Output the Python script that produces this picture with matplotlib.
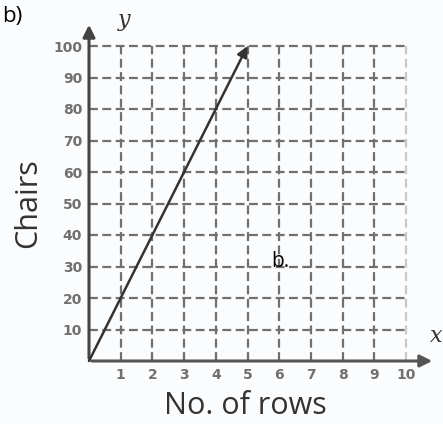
import matplotlib.pyplot as plt

rows = [0, 5]
chairs = [0, 100]
x_ticks = [1, 2, 3, 4, 5, 6, 7, 8, 9, 10]
y_ticks = [10, 20, 30, 40, 50, 60, 70, 80, 90, 100]

fig = plt.figure(figsize=(4.43, 4.24), dpi=100, facecolor='#fbfcfd')
ax = fig.add_axes([89 / 443, 63 / 424, 346 / 443, 339 / 424])
ax.set_facecolor('#fbfcfd')
ax.set_xlim(0, 346 / 31.7)
ax.set_ylim(0, 339 / 3.15)

# dashed grid only up to 10 / 100
for xv in x_ticks:
    c = '#c8c8c8' if xv == 10 else '#707070'
    ax.vlines(xv, 0, 100, colors=c, linestyles=(0, (4, 2)), linewidth=1.6)
for yv in y_ticks:
    ax.hlines(yv, 0, 10, colors='#707070', linestyles=(0, (4, 2)), linewidth=1.6)

for s in ['top', 'right', 'left', 'bottom']:
    ax.spines[s].set_visible(False)

# axes with arrows
ax.annotate('', xy=(1.0, 0), xytext=(0, 0), xycoords='axes fraction',
            arrowprops=dict(arrowstyle='-|>', color='#555555', lw=2.2, mutation_scale=18))
ax.annotate('', xy=(0, 1.0), xytext=(0, 0), xycoords='axes fraction',
            arrowprops=dict(arrowstyle='-|>', color='#444444', lw=2.2, mutation_scale=18))

# the line
ax.annotate('', xy=(rows[1], chairs[1]), xytext=(rows[0], chairs[0]),
            arrowprops=dict(arrowstyle='-|>', color='#333333', lw=1.8, mutation_scale=16,
                            shrinkA=0, shrinkB=0))

ax.set_xticks(x_ticks)
ax.set_yticks(y_ticks)
ax.tick_params(length=0, labelsize=10, colors='#707070', pad=5)
for lab in ax.get_xticklabels() + ax.get_yticklabels():
    lab.set_fontweight('bold')

fig.text(245 / 443, 1 - 406 / 424, 'No. of rows', fontsize=22, color='#333333',
         family='Open Sans', ha='center', va='center')
fig.text(28 / 443, 1 - 203 / 424, 'Chairs', fontsize=22, color='#333333',
         family='Open Sans', ha='center', va='center', rotation=90)

fig.text(0.005, 0.96, 'b)', fontsize=16, color='black', family='Open Sans', va='center')
fig.text(118 / 443, 1 - 20 / 424, 'y', fontsize=16, style='italic', family='DejaVu Serif',
         color='#333333', va='center')
fig.text(430 / 443, 1 - 336 / 424, 'x', fontsize=16, style='italic', family='DejaVu Serif',
         color='#333333', va='center')
ax.text(5.75, 31.5, 'b.', fontsize=15, color='black', family='Open Sans', va='center')

fig.savefig('out.png', dpi=100, facecolor=fig.get_facecolor())
